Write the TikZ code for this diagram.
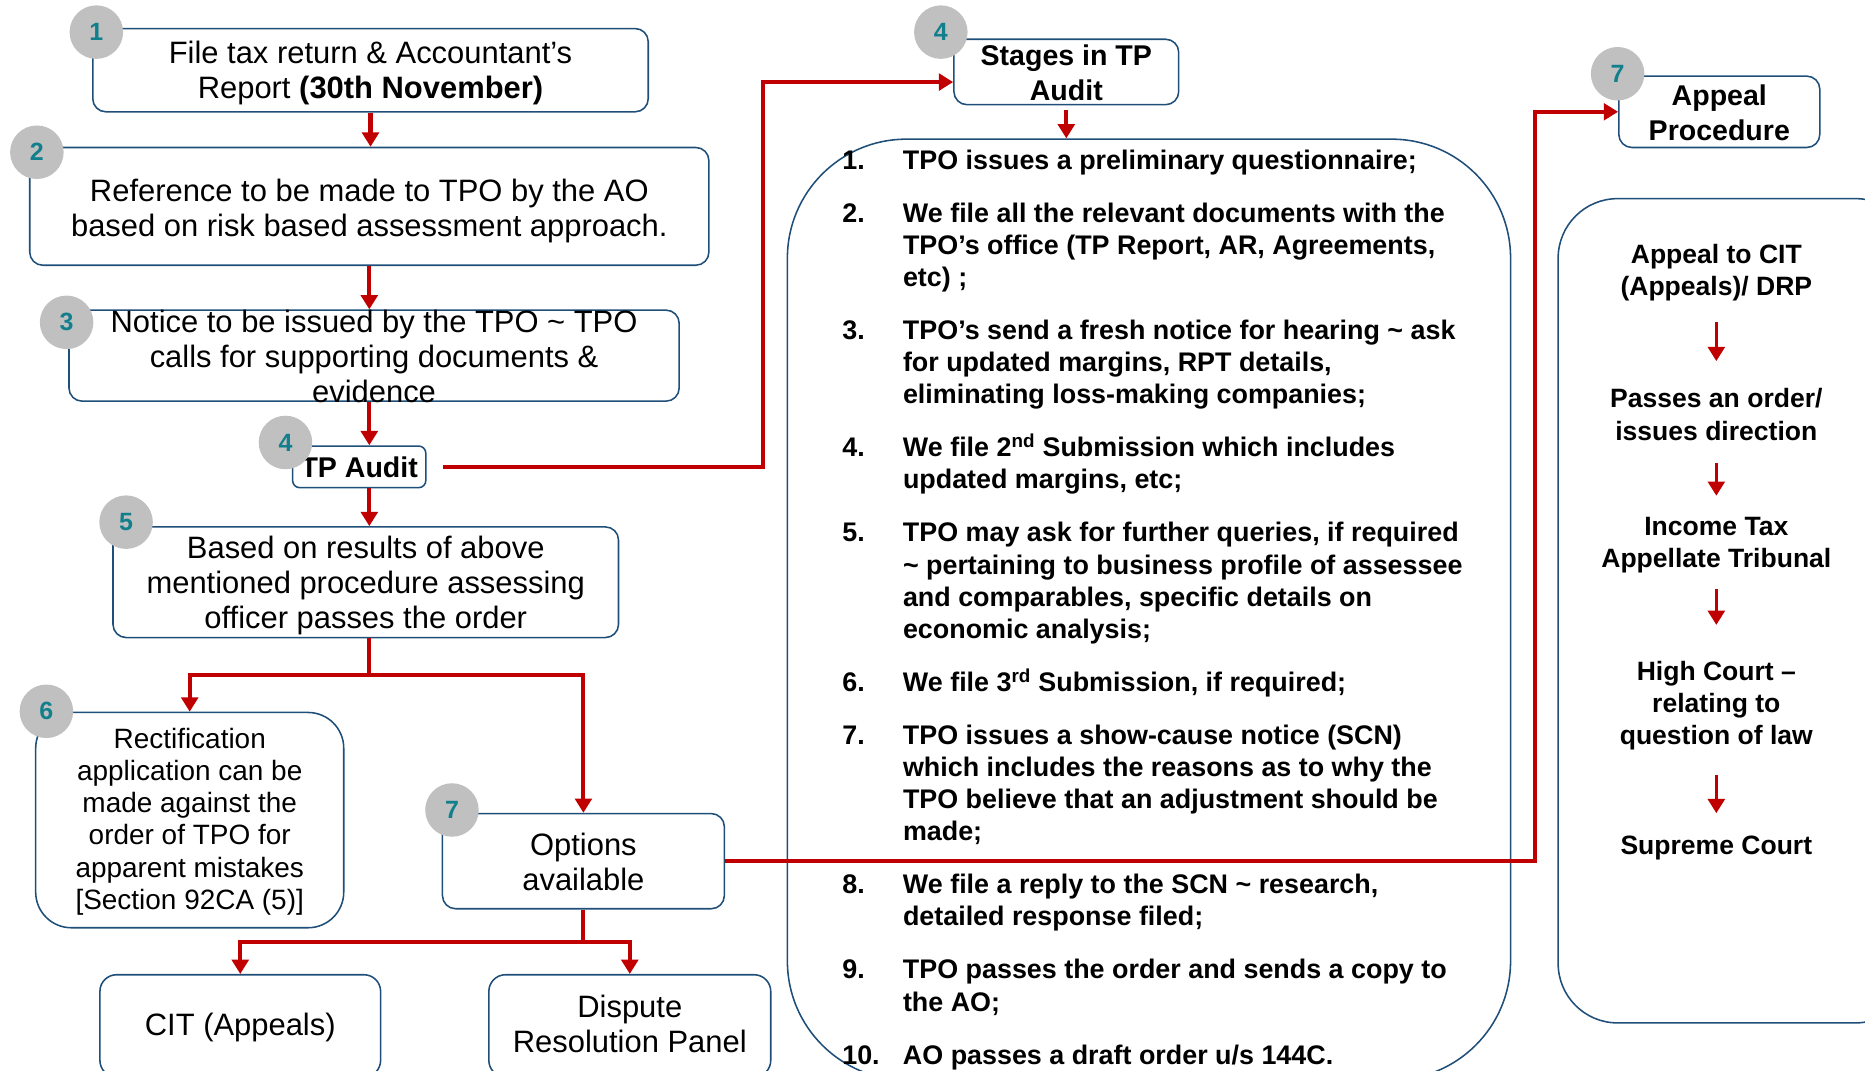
\documentclass[tikz,border=0pt]{standalone}
\usepackage{fontspec}
\setmainfont{Liberation Sans}
\usetikzlibrary{arrows.meta}

\definecolor{lineBlue}{HTML}{1F4E79}
\definecolor{flowRed}{HTML}{C00000}
\definecolor{badgeGray}{HTML}{C0C0C0}
\definecolor{badgeTeal}{HTML}{127F8C}

% centred lines on struts; the optional argument adds room above the first line
\newcommand{\boxlines}[2][7pt]{%
  \begin{tabular}{@{}c@{}}\rule{0pt}{\dimexpr\ht\strutbox+#1\relax}#2\end{tabular}}

\tikzset{
  procbox/.style={draw=lineBlue, line width=1.3pt, rounded corners=11pt,
    inner sep=0pt, font=\fontsize{26}{29.5}\selectfont},
  headbox/.style={procbox, font=\bfseries\fontsize{24}{29}\selectfont},
  framebox/.style={draw=lineBlue, line width=1.3pt, inner sep=0pt},
  badge/.style={circle, fill=badgeGray, minimum size=45pt, inner sep=0pt,
    text=badgeTeal, font=\bfseries\fontsize{21}{21}\selectfont},
  flowline/.style={draw=flowRed, line width=3.5pt},
  flow/.style={flowline, -{Triangle[length=12pt,width=14pt]}},
  stagetext/.style={inner sep=0pt, font=\bfseries\fontsize{22.6}{27}\selectfont},
  courttext/.style={align=center, inner sep=0pt, font=\bfseries\fontsize{22.3}{27}\selectfont},
}

\begin{document}
\begin{tikzpicture}[x=1pt, y=-1pt]
    \useasboundingbox (0,0) rectangle (1568,900);
    \clip (0,0) rectangle (1568,900);

    % Left column: procedure steps
    \node[procbox, minimum width=467pt, minimum height=70pt] (file) at (311.5,59)
        {\boxlines{File tax return \& Accountant’s\\Report \textbf{(30th November)}}};
    \node[procbox, minimum width=571pt, minimum height=99pt] (refer) at (310.5,173.5)
        {\boxlines[9pt]{Reference to be made to TPO by the AO\\based on risk based assessment approach.}};
    \node[procbox, minimum width=513pt, minimum height=76pt, inner ysep=-10pt] (notice) at (314.5,299)
        {\boxlines[8pt]{Notice to be issued by the TPO \textasciitilde{} TPO\\calls for supporting documents \&\\evidence}};
    \node[headbox, minimum width=112pt, minimum height=35pt, rounded corners=6pt] (tpa) at (302,392.5)
        {TP Audit};
    \node[procbox, minimum width=425pt, minimum height=93pt, inner ysep=-1.5pt] (result) at (307.5,489.5)
        {\boxlines{Based on results of above\\mentioned procedure assessing\\officer passes the order}};
    \node[procbox, minimum width=259pt, minimum height=181pt, rounded corners=30pt,
          font=\fontsize{23.5}{27}\selectfont] (rectify) at (159.5,689.5)
        {\boxlines[4pt]{Rectification\\application can be\\made against the\\order of TPO for\\apparent mistakes\\{[Section 92CA (5)]}}};
    \node[procbox, minimum width=237pt, minimum height=80pt] (options) at (490.5,724)
        {\boxlines[8pt]{Options\\available}};
    \node[procbox, minimum width=236pt, minimum height=86pt, rounded corners=14pt] (cit) at (202,862.5)
        {\boxlines[4pt]{CIT (Appeals)}};
    \node[procbox, minimum width=237pt, minimum height=86pt, rounded corners=14pt] (drp) at (529.5,862.5)
        {\boxlines[4pt]{Dispute\\Resolution Panel}};

    % Middle column: stages in TP audit
    \node[headbox, minimum width=189pt, minimum height=55pt, inner ysep=-5pt] (stages) at (896.5,60.5)
        {\boxlines{Stages in TP\\Audit}};
    \node[framebox, rounded corners=100pt, minimum width=608pt, minimum height=791pt] (stagelist) at (966,512.5) {};
    \node[stagetext, anchor=north west] (stageitems) at (708,123) {%
        \begin{tabular}{@{}p{51pt}@{}l@{}}
        1. & TPO issues a preliminary questionnaire;\\[17.6pt]
        2. & We file all the relevant documents with the\\
           & TPO’s office (TP Report, AR, Agreements,\\
           & etc) ;\\[17.6pt]
        3. & TPO’s send a fresh notice for hearing \textasciitilde{} ask\\
           & for updated margins, RPT details,\\
           & eliminating loss-making companies;\\[17.6pt]
        4. & We file 2\textsuperscript{nd} Submission which includes\\
           & updated margins, etc;\\[17.6pt]
        5. & TPO may ask for further queries, if required\\
           & \textasciitilde{} pertaining to business profile of assessee\\
           & and comparables, specific details on\\
           & economic analysis;\\[17.6pt]
        6. & We file 3\textsuperscript{rd} Submission, if required;\\[17.6pt]
        7. & TPO issues a show-cause notice (SCN)\\
           & which includes the reasons as to why the\\
           & TPO believe that an adjustment should be\\
           & made;\\[17.6pt]
        8. & We file a reply to the SCN \textasciitilde{} research,\\
           & detailed response filed;\\[17.6pt]
        9. & TPO passes the order and sends a copy to\\
           & the AO;\\[17.6pt]
        10. & AO passes a draft order u/s 144C.
        \end{tabular}};

    % Right column: appeal procedure
    \node[headbox, minimum width=169pt, minimum height=60pt, inner ysep=-3pt] (appeal) at (1445.5,94)
        {\boxlines{Appeal\\Procedure}};
    \node[framebox, rounded corners=50pt, minimum width=300pt, minimum height=693pt] (courts) at (1460,513.5) {};
    \node[courttext] (citdrp) at (1443,229.5) {Appeal to CIT\\(Appeals)/ DRP};
    \node[courttext] (pass) at (1443,348.5) {Passes an order/\\issues direction};
    \node[courttext] (itat) at (1443,458.5) {Income Tax\\Appellate Tribunal};
    \node[courttext] (hc) at (1443,593) {High Court –\\relating to\\question of law};
    \node[courttext] (sc) at (1443,713) {Supreme Court};

    % Connectors
    \draw[flow] (file.south) -- (file.south |- refer.north);
    \draw[flow] (refer.south) -- (refer.south |- notice.north);
    \draw[flow] (notice.south -| refer.south) -- (refer.south |- tpa.north);
    \draw[flow] (tpa.south -| refer.south) -- (refer.south |- result.north);

    \draw[flowline] (result.south -| refer.south) -- ++(0,31) coordinate (split5);
    \draw[flow] (split5) -| (rectify.north);
    \draw[flow] (split5) -| (options.north);

    \draw[flowline] (options.south) -- ++(0,27) coordinate (split7);
    \draw[flow] (split7) -| (cit.north);
    \draw[flow] (split7) -| (drp.north);

    \draw[flow] ([xshift=14pt]tpa.east) -| ([xshift=-160pt,yshift=-8.5pt]stages.west) -- ([yshift=-8.5pt]stages.west);
    \draw[flow] (options.east) -| ([xshift=-70pt]appeal.west) -- (appeal.west);
    \draw[flow, shorten <=4pt] (stages.south) -- (stages.south |- stagelist.north);

    \foreach \a/\b/\s/\e in {citdrp/pass/17/23, pass/itat/19/18, itat/hc/13/30, hc/sc/21/19}
        \draw[flow, line width=3pt, shorten <=\s pt, shorten >=\e pt] (\a) -- (\b);

    % Step badges
    \foreach \lbl/\cx/\cy [count=\i] in {1/81/27, 2/31/128, 3/56/271, 4/240/372, 5/106/439,
                                         6/39/598, 7/380/681, 4/791/27, 7/1360/62}
        \node[badge] (badge\i) at (\cx,\cy) {\lbl};

\end{tikzpicture}
\end{document}
